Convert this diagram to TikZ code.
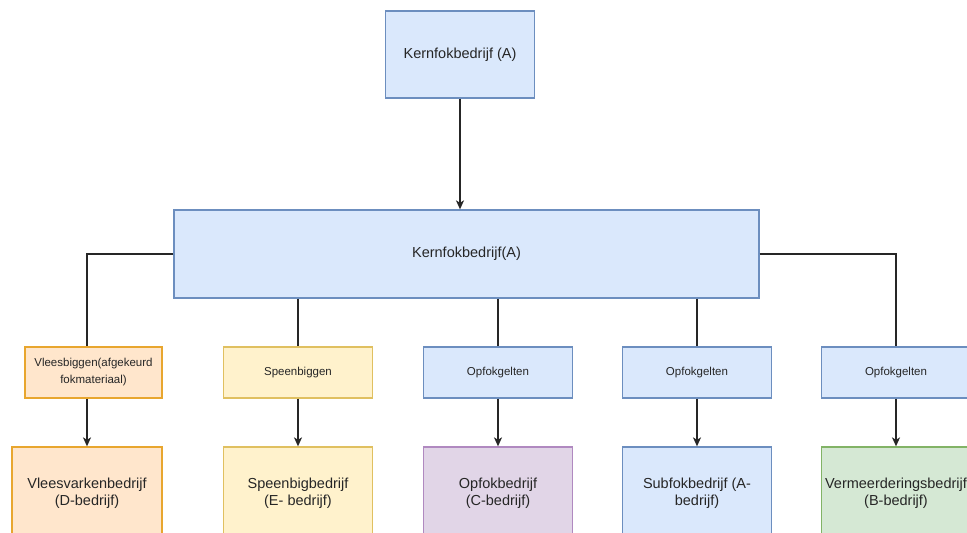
\documentclass[tikz,border=0pt]{standalone}
\usepackage{fontspec}
\setsansfont{Liberation Sans}
\RequirePackage{xcolor}
\definecolor{blfill}{HTML}{DAE8FC}
\definecolor{bldraw}{HTML}{6C8EBF}
\definecolor{orfill}{HTML}{FFE6CC}
\definecolor{ordraw}{HTML}{E8A62E}
\definecolor{yefill}{HTML}{FFF2CC}
\definecolor{yedraw}{HTML}{E0C060}
\definecolor{pufill}{HTML}{E1D5E7}
\definecolor{pudraw}{HTML}{B089C0}
\definecolor{grfill}{HTML}{D5E8D4}
\definecolor{grdraw}{HTML}{82B366}
\tikzset{every picture/.style={/utils/exec={\sffamily}}}
\usetikzlibrary{positioning}
\usetikzlibrary{arrows.meta}
\tikzset{every node/.style={align=center, inner sep=0pt, text=black!85},
         box/.style={ % Sets the properties for each box
           draw, line width=1.3pt, minimum width=149pt,
           font=\fontsize{14.5}{17}\selectfont},
         smallbox/.style={box, minimum height=51pt,
           font=\fontsize{11.5}{17}\selectfont},
         bigbox/.style={box, minimum height=93pt},
         blue box/.style={fill=blfill, draw=bldraw},
         orange box/.style={fill=orfill, draw=ordraw},
         yellow box/.style={fill=yefill, draw=yedraw},
         purple box/.style={fill=pufill, draw=pudraw},
         green box/.style={fill=grfill, draw=grdraw},
         link/.style={draw=black!85, line width=1.5pt},
         flow/.style={link, -{Stealth[length=9pt, width=8pt, inset=2.5pt]}}}

\begin{document}
\begin{tikzpicture}[x=1pt, y=-1pt]
  \useasboundingbox (0,0) rectangle (967,533);

  \node [box, blue box, minimum height=87pt] (kern) at (460,54.5) {Kernfokbedrijf (A)};
  \node [box, blue box, minimum width=585pt, minimum height=88pt] (kernA) at (466.5,254) {Kernfokbedrijf(A)};

  % middle row
  \node [smallbox, orange box, minimum width=137pt] (vlees) at (93.5,372.5) {Vleesbiggen(afgekeurd\\ fokmateriaal)};
  \node [smallbox, yellow box] (speen) at (298,372.5) {Speenbiggen};
  \node [smallbox, blue box] (opfokC) at (498,372.5) {Opfokgelten};
  \node [smallbox, blue box] (opfokA) at (697,372.5) {Opfokgelten};
  \node [smallbox, blue box] (opfokB) at (896,372.5) {Opfokgelten};

  % bottom row
  \node [bigbox, orange box, minimum width=150pt] (vleesbd) at (87,493.5) {Vleesvarkenbedrijf\\ (D-bedrijf)};
  \node [bigbox, yellow box] (speenbd) at (298,493.5) {Speenbigbedrijf\\ (E- bedrijf)};
  \node [bigbox, purple box] (opfokbd) at (498,493.5) {Opfokbedrijf\\ (C-bedrijf)};
  \node [bigbox, blue box] (subfokbd) at (697,493.5) {Subfokbedrijf (A-\\ bedrijf)};
  \node [bigbox, green box] (vermbd) at (896,493.5) {Vermeerderingsbedrijf\\ (B-bedrijf)};

  \draw [flow] (kern) -- (kern |- kernA.north);

  \draw [link] (kernA.west) -| (vlees.north -| vleesbd.north);
  \draw [link] (speen.north |- kernA.south) -- (speen);
  \draw [link] (opfokC.north |- kernA.south) -- (opfokC);
  \draw [link] (opfokA.north |- kernA.south) -- (opfokA);
  \draw [link] (kernA.east) -| (opfokB);

  \draw [flow] (vlees.south -| vleesbd.north) -- (vleesbd);
  \draw [flow] (speen) -- (speenbd);
  \draw [flow] (opfokC) -- (opfokbd);
  \draw [flow] (opfokA) -- (subfokbd);
  \draw [flow] (opfokB) -- (vermbd);
\end{tikzpicture}
\end{document}
